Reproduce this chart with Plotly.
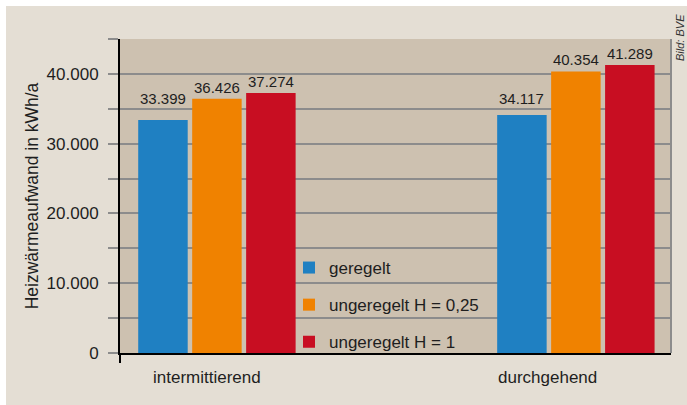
import plotly.graph_objects as go

categories = ["intermittierend", "durchgehend"]
series_names = ["geregelt", "ungeregelt H = 0,25", "ungeregelt H = 1"]
geregelt = [33399, 34117]
ungeregelt_025 = [36426, 40354]
ungeregelt_1 = [37274, 41289]
y_tick_vals = [0, 5000, 10000, 15000, 20000, 25000, 30000, 35000, 40000, 45000]
y_tick_text = ["0", "", "10.000", "", "20.000", "", "30.000", "", "40.000", ""]
category_label_shift = [-10, -28]
geregelt_label_lift = [12, 7]

colors = ["#1f80c2", "#f08200", "#c80e22"]
FONT = "Arial, Liberation Sans, sans-serif"
TXT = "#1e1e1e"

fig = go.Figure()
for i, (name, vals, col) in enumerate(zip(series_names, [geregelt, ungeregelt_025, ungeregelt_1], colors)):
    fig.add_trace(go.Bar(
        x=categories, y=vals, name=name, marker_color=col, marker_line_width=0,
        texttemplate="%{y:,.0f}", textposition="none" if i == 0 else "outside",
        cliponaxis=False,
        textfont=dict(size=15, color=TXT, family=FONT),
        legendgroup=name,
    ))

W, H = 687, 405
L, R, T, B = 120, 16, 39, 52
pw, ph = W - L - R, H - T - B
XR = [-0.27, 1.265]
BARGAP = 0.549

def px(x):
    return (x - L) / pw

def py(y):
    return (H - B - y) / ph

slot_px = (1 - BARGAP) / 3 * pw / (XR[1] - XR[0])

shapes = [
    dict(type="rect", xref="paper", yref="paper", x0=px(0), x1=px(W), y0=py(0), y1=py(6),
         fillcolor="white", line_width=0, layer="below"),
    dict(type="rect", xref="paper", yref="paper", x0=px(0), x1=px(6), y0=py(H), y1=py(0),
         fillcolor="white", line_width=0, layer="below"),
    dict(type="line", xref="paper", yref="paper", x0=1, x1=1, y0=0, y1=1,
         line=dict(color="#8c8c8c", width=2)),
    dict(type="line", xref="paper", yref="paper", x0=0, x1=0, y0=0, y1=py(363),
         line=dict(color="black", width=2)),
]

annotations = [
    dict(text="<i>Bild: BVE</i>", xref="paper", yref="paper", x=px(681), y=py(38),
         xanchor="center", yanchor="middle", xshift=-1, borderpad=0,
         textangle=-90, showarrow=False, font=dict(size=11, color="#333333")),
]
for cat, shift in zip(categories, category_label_shift):
    annotations.append(dict(
        text=cat, x=cat, xref="x", yref="paper", y=py(377), yanchor="middle",
        xshift=shift, showarrow=False, font=dict(size=17, color=TXT, family=FONT),
    ))
for cat, val, lift in zip(categories, geregelt, geregelt_label_lift):
    annotations.append(dict(
        text=f"{val:,}".replace(",", "."), x=cat, y=val, xref="x", yref="y",
        xanchor="center", yanchor="bottom", xshift=-slot_px, yshift=lift,
        borderpad=0, showarrow=False, font=dict(size=15, color=TXT, family=FONT),
    ))

fig.update_layout(
    width=W, height=H,
    margin=dict(l=L, r=R, t=T, b=B),
    paper_bgcolor="#e4ded4",
    plot_bgcolor="#cdc1b0",
    separators=",.",
    barmode="group",
    bargap=BARGAP,
    bargroupgap=0.083,
    font=dict(family=FONT, size=17, color=TXT),
    showlegend=True,
    legend=dict(
        x=px(289), y=py(250), xanchor="left", yanchor="top",
        bgcolor="rgba(0,0,0,0)", font=dict(size=17, color=TXT),
        tracegroupgap=12, itemclick=False,
    ),
    shapes=shapes,
    annotations=annotations,
    xaxis=dict(
        type="category", range=XR,
        showline=True, linecolor="black", linewidth=2,
        ticks="", showticklabels=False,
        showgrid=False, zeroline=False, fixedrange=True,
    ),
    yaxis=dict(
        range=[0, 45000],
        tickvals=y_tick_vals, ticktext=y_tick_text,
        showgrid=True, gridcolor="#8c8c8c", gridwidth=2,
        ticks="outside", ticklen=10, tickcolor="#8c8c8c", tickwidth=2,
        ticklabelstandoff=6,
        showline=True, linecolor="black", linewidth=2,
        zeroline=False,
        tickfont=dict(size=17, color=TXT),
        title=dict(text="Heizwärmeaufwand in kWh/a", standoff=3,
                   font=dict(size=17.5, color=TXT)),
        fixedrange=True,
    ),
)

fig.write_html("out.html", config={"displayModeBar": False},
               post_script="document.body.style.margin='0';document.body.style.padding='0';")
